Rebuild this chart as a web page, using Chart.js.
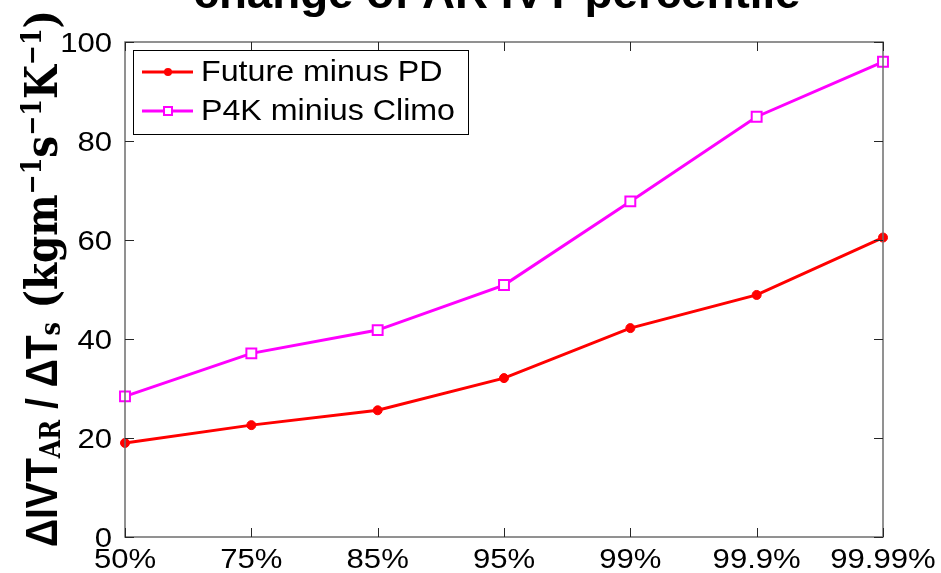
<!DOCTYPE html>
<html>
<head>
<meta charset="utf-8">
<script src="https://cdn.jsdelivr.net/npm/chart.js@4/dist/chart.umd.min.js"></script>
<style>
  html, body { margin: 0; padding: 0; background: #fff; }
  #wrap { width: 941px; height: 573px; position: relative; }
</style>
</head>
<body>
<div id="wrap"><canvas id="c" width="941" height="573"></canvas></div>
<script>
// Percentile levels of AR IVT
const percentiles = ['50%', '75%', '85%', '95%', '99%', '99.9%', '99.99%'];
// dIVT / dTs for each experiment pair
const futureMinusPD = [19.0, 22.6, 25.6, 32.1, 42.2, 48.9, 60.5];
const p4kMinusClimo = [28.4, 37.1, 41.8, 50.9, 67.8, 84.9, 96.0];
const yTicks = [0, 20, 40, 60, 80, 100];

const titleText = 'change of AR IVT percentile';

const SANS = '"Liberation Sans", Arial, sans-serif';
const SERIF = '"DejaVu Serif", serif';
const STRETCH = 1.11; // exported figure text is a little wider than Arial

function wideText(ctx, text, x, y, align) {
  const w = ctx.measureText(text).width * STRETCH;
  let left = x;
  if (align === 'center') left = x - w / 2;
  else if (align === 'right') left = x - w;
  ctx.save();
  ctx.translate(left, y);
  ctx.scale(STRETCH, 1);
  ctx.textAlign = 'left';
  ctx.fillText(text, 0, 0);
  ctx.restore();
}

// Box around the axes with inward ticks on all four sides, plus tick labels
const boxTicks = {
  id: 'boxTicks',
  afterDatasetsDraw(chart) {
    const { ctx, chartArea: a, scales: { x, y } } = chart;
    ctx.save();
    ctx.strokeStyle = '#6e6e6e';
    ctx.lineWidth = 1.5;
    ctx.strokeRect(a.left, a.top, a.right - a.left, a.bottom - a.top);
    ctx.strokeStyle = '#262626';
    ctx.lineWidth = 1;
    const t = 9;
    ctx.beginPath();
    percentiles.forEach((p, i) => {
      const px = Math.round(x.getPixelForValue(i)) + 0.5;
      ctx.moveTo(px, a.bottom); ctx.lineTo(px, a.bottom - t);
      ctx.moveTo(px, a.top); ctx.lineTo(px, a.top + t);
    });
    yTicks.forEach(v => {
      const py = Math.round(y.getPixelForValue(v)) + 0.5;
      ctx.moveTo(a.left, py); ctx.lineTo(a.left + t, py);
      ctx.moveTo(a.right, py); ctx.lineTo(a.right - t, py);
    });
    ctx.stroke();

    ctx.fillStyle = '#000';
    ctx.font = '28px ' + SANS;
    ctx.textBaseline = 'alphabetic';
    percentiles.forEach((p, i) => {
      wideText(ctx, p, x.getPixelForValue(i), a.bottom + 31, 'center');
    });
    yTicks.forEach(v => {
      wideText(ctx, String(v), a.left - 13, y.getPixelForValue(v) + 10, 'right');
    });
    ctx.restore();
  }
};

// Legend box in the upper-left of the axes
const innerLegend = {
  id: 'innerLegend',
  afterDraw(chart) {
    const { ctx } = chart;
    const x0 = 133, y0 = 50, w = 335, h = 84;
    ctx.save();
    ctx.fillStyle = '#fff';
    ctx.fillRect(x0, y0, w, h);
    ctx.strokeStyle = '#000';
    ctx.lineWidth = 1;
    ctx.strokeRect(x0 + 0.5, y0 + 0.5, w, h);
    ctx.font = '29px ' + SANS;
    ctx.textBaseline = 'middle';
    chart.data.datasets.forEach((ds, i) => {
      const cy = 72 + i * 39;
      ctx.strokeStyle = ds.borderColor;
      ctx.lineWidth = 3;
      ctx.beginPath();
      ctx.moveTo(x0 + 9, cy); ctx.lineTo(x0 + 60, cy);
      ctx.stroke();
      const mx = x0 + 35;
      if (ds.pointStyle === 'rect') {
        ctx.fillStyle = '#fff';
        ctx.lineWidth = 2;
        ctx.fillRect(mx - 4, cy - 4, 8, 8);
        ctx.strokeRect(mx - 4, cy - 4, 8, 8);
      } else {
        ctx.fillStyle = ds.borderColor;
        ctx.beginPath(); ctx.arc(mx, cy, 4, 0, Math.PI * 2); ctx.fill();
      }
      ctx.fillStyle = '#000';
      wideText(ctx, ds.label, x0 + 68, cy + 1, 'left');
    });
    ctx.restore();
  }
};

// Title and rotated y label with sub/superscripts
const labels = {
  id: 'labels',
  afterDraw(chart) {
    const { ctx } = chart;
    ctx.save();
    ctx.fillStyle = '#000';
    ctx.textBaseline = 'alphabetic';
    ctx.font = 'bold 44px ' + SANS;
    const tw = ctx.measureText(titleText).width;
    ctx.save();
    ctx.translate(497, 8);
    ctx.scale(607 / tw, 1);
    ctx.textAlign = 'center';
    ctx.fillText(titleText, 0, 0);
    ctx.restore();

    const big = 44, small = 27;
    const parts = [
      { t: '\u0394IVT', f: 'bold ' + big + 'px ' + SANS, dy: 0 },
      { t: 'AR', f: 'bold ' + small + 'px ' + SERIF, dy: 3 },
      { t: ' / \u0394T', f: 'bold ' + big + 'px ' + SANS, dy: 0 },
      { t: 's', f: 'bold ' + small + 'px ' + SERIF, dy: 3 },
      { t: ' (kgm', f: 'bold ' + big + 'px ' + SERIF, dy: 0 },
      { t: '\u22121', f: 'bold ' + small + 'px ' + SERIF, dy: -16 },
      { t: 's', f: 'bold ' + big + 'px ' + SERIF, dy: 0 },
      { t: '\u22121', f: 'bold ' + small + 'px ' + SERIF, dy: -16 },
      { t: 'K', f: 'bold ' + big + 'px ' + SERIF, dy: 0 },
      { t: '\u22121', f: 'bold ' + small + 'px ' + SERIF, dy: -16 },
      { t: ')', f: 'bold ' + big + 'px ' + SERIF, dy: 0 }
    ];
    let total = 0;
    parts.forEach(p => { ctx.font = p.f; p.w = ctx.measureText(p.t).width; total += p.w; });
    const span = 537;
    const k = span / total;
    ctx.translate(57, 547);
    ctx.rotate(-Math.PI / 2);
    ctx.scale(k, 1);
    ctx.textAlign = 'left';
    let cx = 0;
    parts.forEach(p => {
      ctx.font = p.f;
      ctx.fillText(p.t, cx, p.dy);
      cx += p.w;
    });
    ctx.restore();
  }
};

new Chart(document.getElementById('c'), {
  type: 'line',
  data: {
    labels: percentiles,
    datasets: [
      {
        label: 'Future minus PD',
        data: futureMinusPD,
        borderColor: '#ff0000',
        backgroundColor: '#ff0000',
        borderWidth: 3,
        pointStyle: 'circle',
        pointRadius: 4.5,
        pointBorderWidth: 1,
        tension: 0
      },
      {
        label: 'P4K minius Climo',
        data: p4kMinusClimo,
        borderColor: '#ff00ff',
        backgroundColor: '#ffffff',
        borderWidth: 3,
        pointStyle: 'rect',
        pointRadius: 7,
        pointBorderWidth: 2,
        tension: 0
      }
    ]
  },
  options: {
    responsive: false,
    animation: false,
    events: [],
    layout: { padding: { top: 42, right: 58, left: 0, bottom: 0 } },
    plugins: { legend: { display: false }, title: { display: false }, tooltip: { enabled: false } },
    scales: {
      x: {
        type: 'category',
        offset: false,
        grid: { display: false, drawTicks: false },
        border: { display: false },
        ticks: { display: false, autoSkip: false },
        afterFit(s) { s.height = 36; }
      },
      y: {
        min: 0, max: 100,
        grid: { display: false, drawTicks: false },
        border: { display: false },
        ticks: { display: false, stepSize: 20 },
        afterBuildTicks(s) { s.ticks = yTicks.map(v => ({ value: v })); },
        afterFit(s) { s.width = 125; }
      }
    }
  },
  plugins: [boxTicks, innerLegend, labels]
});
</script>
</body>
</html>
